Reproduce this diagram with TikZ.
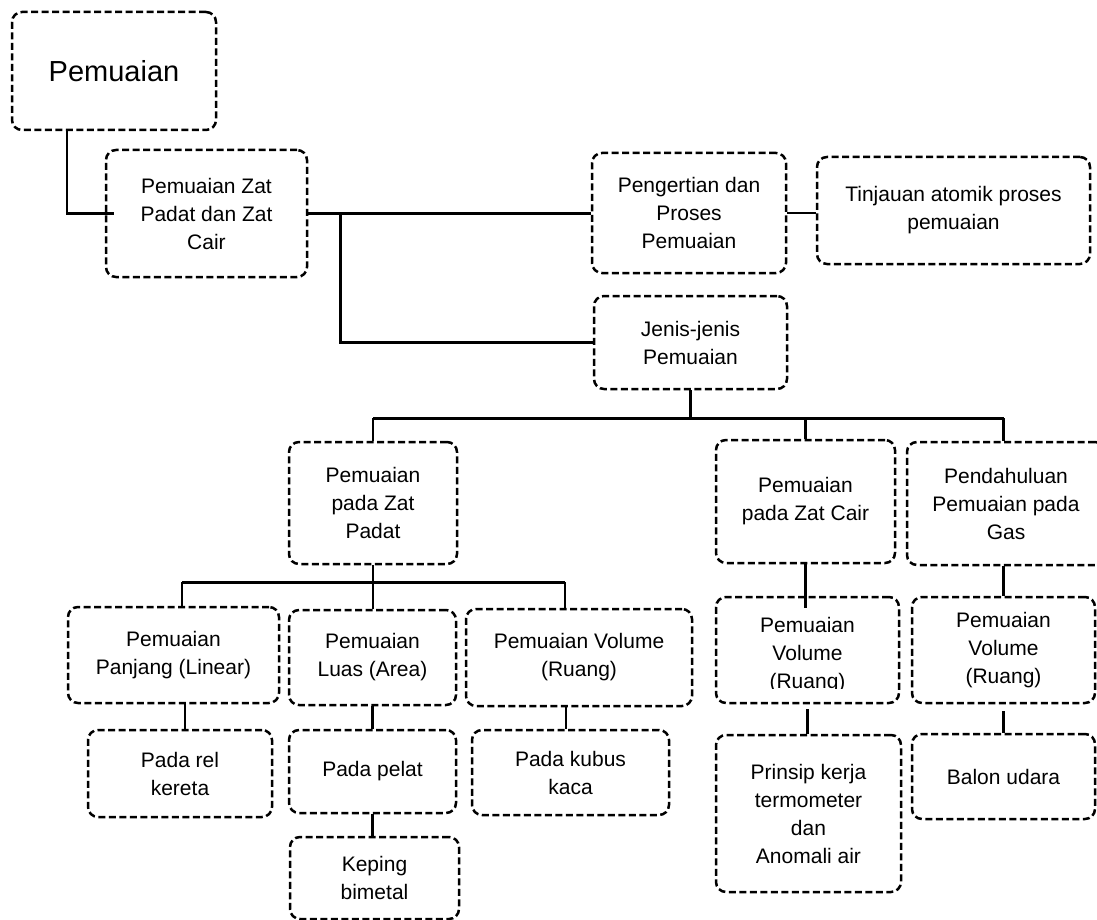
\documentclass[tikz,border=0pt]{standalone}
\usepackage{fontspec}
\setmainfont{Liberation Sans}
\usetikzlibrary{calc}

\tikzset{
  box/.style={draw, line width=2.5pt, dash pattern=on 7pt off 3.5pt,
    rounded corners=10pt, inner sep=0pt, align=center,
    font=\fontsize{21}{28}\selectfont},
  conn/.style={line width=2.5pt},
  label/.style={inner sep=0pt, align=center, font=\fontsize{21}{28}\selectfont}
}

\begin{document}
\begin{tikzpicture}[x=1pt, y=-1pt]
\useasboundingbox (0,0) rectangle (1097,920);
\clip (0,0) rectangle (1097,920);

% top level
\node[box, minimum width=204pt, minimum height=118pt, font=\fontsize{29}{34}\selectfont] (A) at (114,71) {Pemuaian};
\node[box, minimum width=201pt, minimum height=127pt] (B) at (206.5,213.5) {Pemuaian Zat\\Padat dan Zat\\Cair};
\node[box, minimum width=194pt, minimum height=120pt] (C) at (689,213) {Pengertian dan\\Proses\\Pemuaian};
\node[box, minimum width=273pt, minimum height=107pt] (D) at (953.5,210.5) {Tinjauan atomik proses\\pemuaian};
\node[box, minimum width=193pt, minimum height=93pt] (E) at (690.5,342.5) {Jenis-jenis\\Pemuaian};

% kinds of expansion
\node[box, minimum width=168pt, minimum height=122pt] (F) at (373,503) {Pemuaian\\pada Zat\\Padat};
\node[box, minimum width=179pt, minimum height=123pt] (G) at (805.5,501.5) {Pemuaian\\pada Zat Cair};
\node[box, minimum width=198pt, minimum height=123pt] (H) at (1006,503.5) {Pendahuluan\\Pemuaian pada\\Gas};

% solids
\node[box, minimum width=211pt, minimum height=96pt] (I) at (173.5,655) {Pemuaian\\Panjang (Linear)};
\node[box, minimum width=167pt, minimum height=95pt] (J) at (372.5,657.5) {Pemuaian\\Luas (Area)};
\node[box, minimum width=226pt, minimum height=97pt] (K) at (579,657.5) {Pemuaian Volume\\(Ruang)};
\node[box, minimum width=184pt, minimum height=87pt] (L) at (180,773.5) {Pada rel\\kereta};
\node[box, minimum width=167pt, minimum height=83pt] (M) at (372.5,771.5) {Pada pelat};
\node[box, minimum width=169pt, minimum height=82pt] (N) at (374.5,878) {Keping\\bimetal};
\node[box, minimum width=197pt, minimum height=85pt] (O) at (570.5,772.5) {Pada kubus\\kaca};

% liquids: the text of this box is cut off by its lower margin
\node[box, minimum width=183pt, minimum height=106pt] (P) at (807.5,650) {};
\begin{scope}
  \clip (P.north west) rectangle ($(P.south east)+(0,-16)$);
  \node[label] (Pt) at ($(P.center)+(0,5)$) {Pemuaian\\Volume\\(Ruang)};
\end{scope}
\node[box, minimum width=185pt, minimum height=157pt] (Q) at (808.5,813.5) {Prinsip kerja\\termometer\\dan\\Anomali air};

% gases
\node[box, minimum width=183pt, minimum height=106pt] (R) at (1003.5,650) {Pemuaian\\Volume\\(Ruang)};
\node[box, minimum width=183pt, minimum height=85pt] (S) at (1003.5,776.5) {Balon udara};

% connectors
\draw[conn] ($(A.south west)+(56,0)$) |- ($(B.west)+(9,0)$);
\draw[conn] (B.east) -- (B.east -| C.west);
\coordinate (br) at ($(B.east)+(32,0)$);
\draw[conn] (br) |- (E.west);
\draw[conn] (C.east) -- (C.east -| D.west);

\coordinate (bus1) at ($(E.south)+(0,28)$);
\draw[conn] (E.south) -- (bus1);
\draw[conn] (F.north |- bus1) -- (R.north |- bus1);
\draw[conn] (F.north |- bus1) -- (F.north);
\draw[conn] (G.north |- bus1) -- (G.north);
\draw[conn] (R.north |- bus1) -- (R.north |- H.north);

\coordinate (bus2) at ($(F.south)+(0,17)$);
\coordinate (iTop) at ($(I.north)+(8.5,0)$);
\coordinate (kTop) at ($(K.north)+(-14,0)$);
\draw[conn] (F.south) -- (F.south |- J.north);
\draw[conn] (iTop |- bus2) -- (kTop |- bus2);
\draw[conn] (iTop |- bus2) -- (iTop);
\draw[conn] (kTop |- bus2) -- (kTop);

\coordinate (iBot) at ($(I.south)+(11.5,0)$);
\coordinate (kBot) at ($(K.south)+(-13,0)$);
\draw[conn] (iBot) -- (iBot |- L.north);
\draw[conn] (J.south) -- (J.south |- M.north);
\draw[conn] (M.south) -- (M.south |- N.north);
\draw[conn] (kBot) -- (kBot |- O.north);

\draw[conn] (G.south) -- ($(G.south |- P.north)+(0,12)$);
\draw[conn] ($(P.south)+(0,5)$) -- (P.south |- Q.north);
\draw[conn] (R.north |- H.south) -- (R.north);
\draw[conn] ($(R.south)+(0,7)$) -- (R.south |- S.north);
\end{tikzpicture}
\end{document}
